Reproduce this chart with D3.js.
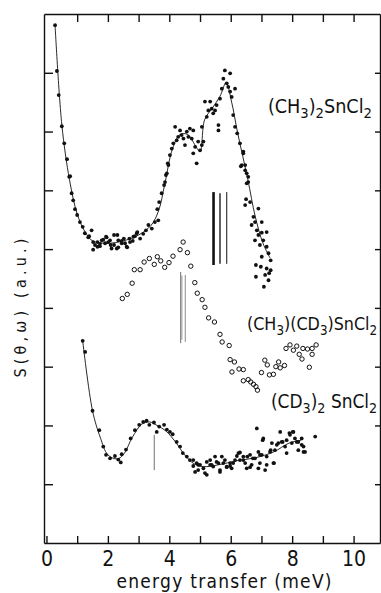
<!DOCTYPE html>
<html>
<head>
<meta charset="utf-8">
<script src="https://cdn.jsdelivr.net/npm/d3@7"></script>
<style>
  body { margin: 0; background: #fff; }
  svg { display: block; }
  text { font-family: "DejaVu Sans Condensed", "DejaVu Sans", sans-serif; font-stretch: condensed; fill: #111; }
  .axis path, .axis line { stroke: #111; stroke-width: 1.4; }
</style>
</head>
<body>
<div id="viz"></div>
<script>
const width = 381;
const height = 593;
const plot = {left: 44, right: 380, top: 14, bottom: 543};

// (CH3)2SnCl2, measured points [energy meV, S a.u.]
const topPoints = [
  [0.28, 8.81], [0.34, 8.03], [0.40, 7.62], [0.50, 7.09], [0.58, 6.80], [0.67, 6.53], [0.74, 6.23],
  [0.77, 6.24], [0.82, 5.95], [0.87, 5.83], [0.93, 5.68], [1.00, 5.58], [1.09, 5.46], [1.18, 5.38],
  [1.25, 5.27], [1.36, 5.20], [1.39, 5.22], [1.47, 5.32], [1.52, 4.99], [1.52, 5.12], [1.58, 5.07],
  [1.66, 5.12], [1.66, 5.04], [1.74, 5.05], [1.74, 5.09], [1.80, 5.15], [1.85, 5.16], [1.91, 5.10],
  [1.94, 5.21], [1.96, 5.20], [2.01, 5.12], [2.07, 5.15], [2.09, 5.07], [2.12, 5.01], [2.20, 5.07],
  [2.20, 5.24], [2.29, 5.01], [2.31, 5.24], [2.34, 5.03], [2.34, 5.15], [2.45, 5.14], [2.45, 5.10],
  [2.52, 5.18], [2.56, 5.10], [2.61, 5.04], [2.63, 5.03], [2.70, 5.18], [2.72, 5.12], [2.81, 5.14],
  [2.83, 5.21], [2.88, 5.22], [2.94, 5.27], [2.96, 5.29], [3.05, 5.18], [3.15, 5.26], [3.24, 5.32],
  [3.32, 5.41], [3.43, 5.35], [3.53, 5.46], [3.61, 5.68], [3.64, 5.49], [3.67, 5.80], [3.75, 5.95],
  [3.83, 6.09], [3.86, 6.14], [3.89, 6.26], [3.92, 6.29], [3.95, 6.46], [3.97, 6.43], [4.02, 6.60],
  [4.08, 6.71], [4.13, 6.80], [4.19, 7.08], [4.24, 6.85], [4.29, 6.91], [4.35, 7.02], [4.40, 6.94],
  [4.46, 6.88], [4.51, 6.77], [4.57, 7.00], [4.62, 6.91], [4.67, 7.05], [4.73, 6.88], [4.78, 7.02],
  [4.78, 6.63], [4.84, 6.74], [4.89, 6.46], [4.94, 6.83], [5.00, 6.68], [5.06, 6.77], [5.06, 7.08],
  [5.11, 6.83], [5.16, 7.51], [5.22, 7.25], [5.27, 7.36], [5.33, 7.51], [5.38, 7.39], [5.43, 7.31],
  [5.49, 7.36], [5.54, 7.45], [5.60, 7.11], [5.60, 7.02], [5.65, 7.56], [5.71, 7.73], [5.76, 7.90],
  [5.81, 8.04], [5.87, 7.82], [5.92, 7.76], [5.98, 7.99], [5.98, 7.68], [6.03, 7.59], [6.08, 7.28],
  [6.14, 7.73], [6.14, 7.08], [6.21, 6.97], [6.30, 6.80], [6.33, 6.41], [6.36, 6.43], [6.41, 6.63],
  [6.41, 6.66], [6.47, 6.43], [6.47, 6.34], [6.47, 5.75], [6.50, 5.85], [6.52, 6.29], [6.52, 6.12],
  [6.57, 6.14], [6.57, 6.23], [6.63, 5.80], [6.68, 5.41], [6.74, 5.55], [6.79, 5.46], [6.79, 5.15],
  [6.82, 4.73], [6.82, 4.53], [6.85, 5.32], [6.90, 5.69], [6.90, 5.24], [6.95, 5.07], [6.98, 4.70],
  [7.01, 5.46], [7.01, 5.28], [7.01, 4.87], [7.06, 5.15], [7.08, 4.36], [7.12, 4.56], [7.17, 5.29],
  [7.17, 5.04], [7.17, 4.67], [7.23, 4.93], [7.23, 4.47], [7.25, 4.59], [7.30, 4.81], [7.30, 4.64]
];
const topFit = [
  [0.28, 8.81], [0.5, 7.12], [0.75, 6.18], [1.0, 5.6], [1.25, 5.3], [1.5, 5.14], [2.0, 5.1],
  [2.5, 5.14], [3.0, 5.24], [3.4, 5.4], [3.65, 5.65], [3.85, 6.1], [4.1, 6.7], [4.35, 6.95],
  [4.6, 6.95], [4.85, 6.76], [5.0, 6.66], [5.15, 7.2], [5.4, 7.4], [5.65, 7.6], [5.85, 7.83],
  [6.03, 7.5], [6.22, 6.99], [6.55, 6.2], [6.8, 5.55], [7.05, 5.1], [7.28, 4.85]
];
// sticks: [energy, from, to, relative strength]
const topSticks = [[5.44, 4.73, 5.97, 3], [5.65, 4.75, 5.95, 1.4], [5.87, 4.75, 5.97, 1]];

// (CH3)(CD3)SnCl2, open circles
const midPoints = [
  [2.47, 4.16], [2.63, 4.23], [2.79, 4.42], [2.86, 4.65], [3.05, 4.65], [3.18, 4.78], [3.35, 4.84],
  [3.51, 4.74], [3.61, 4.87], [3.72, 4.80], [3.85, 4.69], [3.99, 4.77], [4.12, 4.88], [4.35, 4.99],
  [4.45, 5.12], [4.59, 4.94], [4.70, 4.71], [4.83, 4.43], [4.91, 4.25], [5.07, 4.14], [5.16, 4.01],
  [5.28, 3.83], [5.47, 3.76], [5.65, 3.55], [5.72, 3.42], [5.95, 3.36], [5.98, 3.12], [6.12, 3.08],
  [6.04, 2.91], [6.27, 2.96], [6.41, 2.95], [6.41, 2.76], [6.57, 2.78], [6.65, 2.74], [6.74, 2.70],
  [6.82, 2.66], [6.87, 2.60], [7.00, 2.90], [7.11, 3.11], [7.19, 3.03], [7.26, 2.86], [7.39, 2.87],
  [7.47, 3.00], [7.56, 3.08], [7.61, 2.98], [7.75, 3.02], [7.80, 3.31], [7.93, 3.37], [8.04, 3.28],
  [8.15, 3.35], [8.23, 3.21], [8.35, 3.31], [8.32, 3.13], [8.50, 3.30], [8.56, 2.99], [8.65, 3.31],
  [8.65, 3.21], [8.78, 3.37]
];
const midSticks = [[4.37, 3.40, 4.61, 0.8], [4.41, 3.46, 4.55, 0.5], [4.52, 3.42, 4.56, 0.6]];

// (CD3)2SnCl2, measured points
const botPoints = [
  [1.18, 3.44], [1.26, 3.25], [1.50, 2.25], [1.72, 1.92], [1.85, 1.64], [1.94, 1.50], [2.07, 1.44],
  [2.23, 1.48], [2.34, 1.42], [2.42, 1.37], [2.45, 1.51], [2.59, 1.59], [2.74, 1.78], [2.88, 1.92],
  [3.02, 2.01], [3.15, 2.06], [3.26, 2.08], [3.35, 2.01], [3.50, 2.05], [3.59, 1.89], [3.67, 1.98],
  [3.83, 2.01], [3.92, 1.93], [4.02, 1.89], [4.11, 1.85], [4.24, 1.72], [4.35, 1.64], [4.44, 1.53],
  [4.57, 1.47], [4.67, 1.41], [4.78, 1.31], [4.84, 1.21], [4.78, 1.41], [4.89, 1.36], [4.94, 1.24],
  [4.94, 1.33], [5.00, 1.33], [5.11, 1.27], [5.16, 1.19], [5.22, 1.16], [5.22, 1.38], [5.33, 1.41],
  [5.33, 1.33], [5.38, 1.33], [5.43, 1.30], [5.49, 1.47], [5.54, 1.38], [5.60, 1.36], [5.65, 1.24],
  [5.65, 1.21], [5.71, 1.47], [5.76, 1.36], [5.81, 1.41], [5.87, 1.30], [5.87, 1.29], [5.98, 1.36],
  [5.98, 1.31], [6.03, 1.27], [6.08, 1.36], [6.14, 1.41], [6.20, 1.48], [6.25, 1.53], [6.30, 1.41],
  [6.30, 1.54], [6.41, 1.47], [6.41, 1.41], [6.47, 1.36], [6.52, 1.27], [6.54, 1.47], [6.63, 1.50],
  [6.63, 1.29], [6.68, 1.33], [6.72, 1.44], [6.79, 1.44], [6.85, 1.95], [6.90, 1.55], [6.90, 1.27],
  [6.95, 1.36], [6.95, 1.50], [7.01, 1.50], [7.04, 1.75], [7.06, 1.78], [7.12, 1.24], [7.17, 1.33],
  [7.17, 1.47], [7.28, 1.55], [7.30, 1.58], [7.34, 1.70], [7.39, 1.36], [7.41, 1.36], [7.44, 1.58],
  [7.50, 1.67], [7.55, 1.70], [7.61, 1.89], [7.66, 1.72], [7.69, 1.72], [7.77, 1.64], [7.82, 1.53],
  [7.82, 1.75], [7.91, 1.87], [7.93, 1.84], [7.99, 1.70], [8.02, 1.89], [8.04, 1.89], [8.09, 1.78],
  [8.15, 1.72], [8.20, 1.58], [8.20, 1.72], [8.31, 1.78], [8.31, 1.67], [8.37, 1.64], [8.37, 1.55],
  [8.42, 1.55], [8.75, 1.81]
];
const botFit = [
  [1.18, 3.44], [1.5, 2.25], [1.75, 1.8], [2.0, 1.5], [2.3, 1.43], [2.5, 1.5], [2.8, 1.8],
  [3.1, 2.02], [3.35, 2.06], [3.6, 2.0], [3.9, 1.9], [4.2, 1.72], [4.5, 1.5], [4.8, 1.35],
  [5.1, 1.3], [5.6, 1.33], [6.2, 1.4], [6.8, 1.45], [7.4, 1.55], [7.9, 1.7], [8.3, 1.75]
];
const botSticks = [[3.51, 1.24, 1.84, 0.8]];

const xTicks = d3.range(0, 11);
const yTicks = d3.range(1, 9);

// label text pieces: [text, subscript?]; span = [left end, right end] in meV, baseline in a.u.
const labels = [
  {span: [7.21, 10.6], base: 7.31, parts: [["(CH", 0], ["3", 1], [")", 0], ["2", 1], ["SnCl", 0], ["2", 1]]},
  {span: [6.53, 10.77], base: 3.62, parts: [["(CH", 0], ["3", 1], [")(CD", 0], ["3", 1], [")SnCl", 0], ["2", 1]]},
  {span: [7.31, 10.77], base: 2.30, parts: [["(CD", 0], ["3", 1], [")", 0], ["2", 1], [" SnCl", 0], ["2", 1]]}
];

const x = d3.scaleLinear().domain([-0.08, 10.86]).range([plot.left, plot.right]);
const y = d3.scaleLinear().domain([0, 9]).range([plot.bottom, plot.top]);
const stickWidth = d3.scaleLinear().domain([1, 3]).range([1, 2.6]);

const svg = d3.select('#viz').append('svg')
  .attr('width', width)
  .attr('height', height)
  .attr('viewBox', `0 0 ${width} ${height}`);

// axes, all ticks pointing inward
svg.append('g').attr('class', 'axis')
  .attr('transform', `translate(0,${plot.bottom})`)
  .call(d3.axisBottom(x).tickValues(xTicks).tickSizeInner(-7).tickSizeOuter(0).tickPadding(8)
    .tickFormat(d => d % 2 === 0 ? d : ''))
  .call(g => g.selectAll('text').attr('font-size', 21));
svg.append('g').attr('class', 'axis')
  .attr('transform', `translate(0,${plot.top})`)
  .call(d3.axisTop(x).tickValues(xTicks.slice(1)).tickSizeInner(-8).tickSizeOuter(0).tickFormat(''));
svg.append('g').attr('class', 'axis')
  .attr('transform', `translate(${plot.left},0)`)
  .call(d3.axisLeft(y).tickValues(yTicks).tickSizeInner(-9).tickSizeOuter(0).tickFormat(''));
svg.append('g').attr('class', 'axis')
  .attr('transform', `translate(${plot.right},0)`)
  .call(d3.axisRight(y).tickValues(yTicks).tickSizeInner(-5).tickSizeOuter(0).tickFormat(''));

// fitted curves
const fitLine = d3.line().x(d => x(d[0])).y(d => y(d[1])).curve(d3.curveCatmullRom.alpha(0.5));
[topFit, botFit].forEach(fit => {
  svg.append('path').datum(fit)
    .attr('d', fitLine)
    .attr('fill', 'none')
    .attr('stroke', '#111')
    .attr('stroke-width', 0.9);
});

// calculated transition sticks
svg.append('g').selectAll('line')
  .data([...topSticks, ...midSticks, ...botSticks])
  .join('line')
  .attr('x1', d => x(d[0])).attr('x2', d => x(d[0]))
  .attr('y1', d => y(d[1])).attr('y2', d => y(d[2]))
  .attr('stroke', d => d[3] < 1 ? '#555' : '#111')
  .attr('stroke-width', d => stickWidth(d[3]));

// data points
[topPoints, botPoints].forEach(pts => {
  svg.append('g').selectAll('circle')
    .data(pts)
    .join('circle')
    .attr('cx', d => x(d[0]))
    .attr('cy', d => y(d[1]))
    .attr('r', 1.9)
    .attr('fill', '#111');
});
svg.append('g').selectAll('circle')
  .data(midPoints)
  .join('circle')
  .attr('cx', d => x(d[0]))
  .attr('cy', d => y(d[1]))
  .attr('r', 2.2)
  .attr('fill', 'none')
  .attr('stroke', '#111')
  .attr('stroke-width', 1);

// compound labels, sized to the span they cover in the original
labels.forEach(l => {
  const size = 20;
  const t = svg.append('text')
    .attr('x', x(l.span[0]))
    .attr('y', y(l.base));
  l.parts.forEach(([s, sub], i) => {
    const prevSub = i > 0 && l.parts[i - 1][1];
    t.append('tspan')
      .attr('class', sub ? 'sub' : 'main')
      .attr('font-size', sub ? size * 0.75 : size)
      .attr('dy', sub && !prevSub ? 5 : (!sub && prevSub ? -5 : 0))
      .text(s);
  });
  const k = (x(l.span[1]) - x(l.span[0])) / t.node().getComputedTextLength();
  t.selectAll('tspan.main').attr('font-size', size * k);
  t.selectAll('tspan.sub').attr('font-size', size * 0.75 * k);
});

// axis titles
svg.append('text')
  .attr('x', (plot.left + plot.right) / 2 + 12)
  .attr('y', 588)
  .attr('text-anchor', 'middle')
  .attr('font-size', 19)
  .attr('textLength', 215)
  .attr('lengthAdjust', 'spacing')
  .text('energy transfer (meV)');

const yTitle = svg.append('text')
  .attr('transform', 'translate(26,306) rotate(-90)')
  .attr('text-anchor', 'middle')
  .attr('font-size', 16)
  .text('S(θ,ω) (a.u.)');
const yTitleText = yTitle.text();
const natural = yTitle.node().getComputedTextLength();
yTitle.attr('letter-spacing', Math.max(0, (143 - natural) / yTitleText.length));
</script>
</body>
</html>
